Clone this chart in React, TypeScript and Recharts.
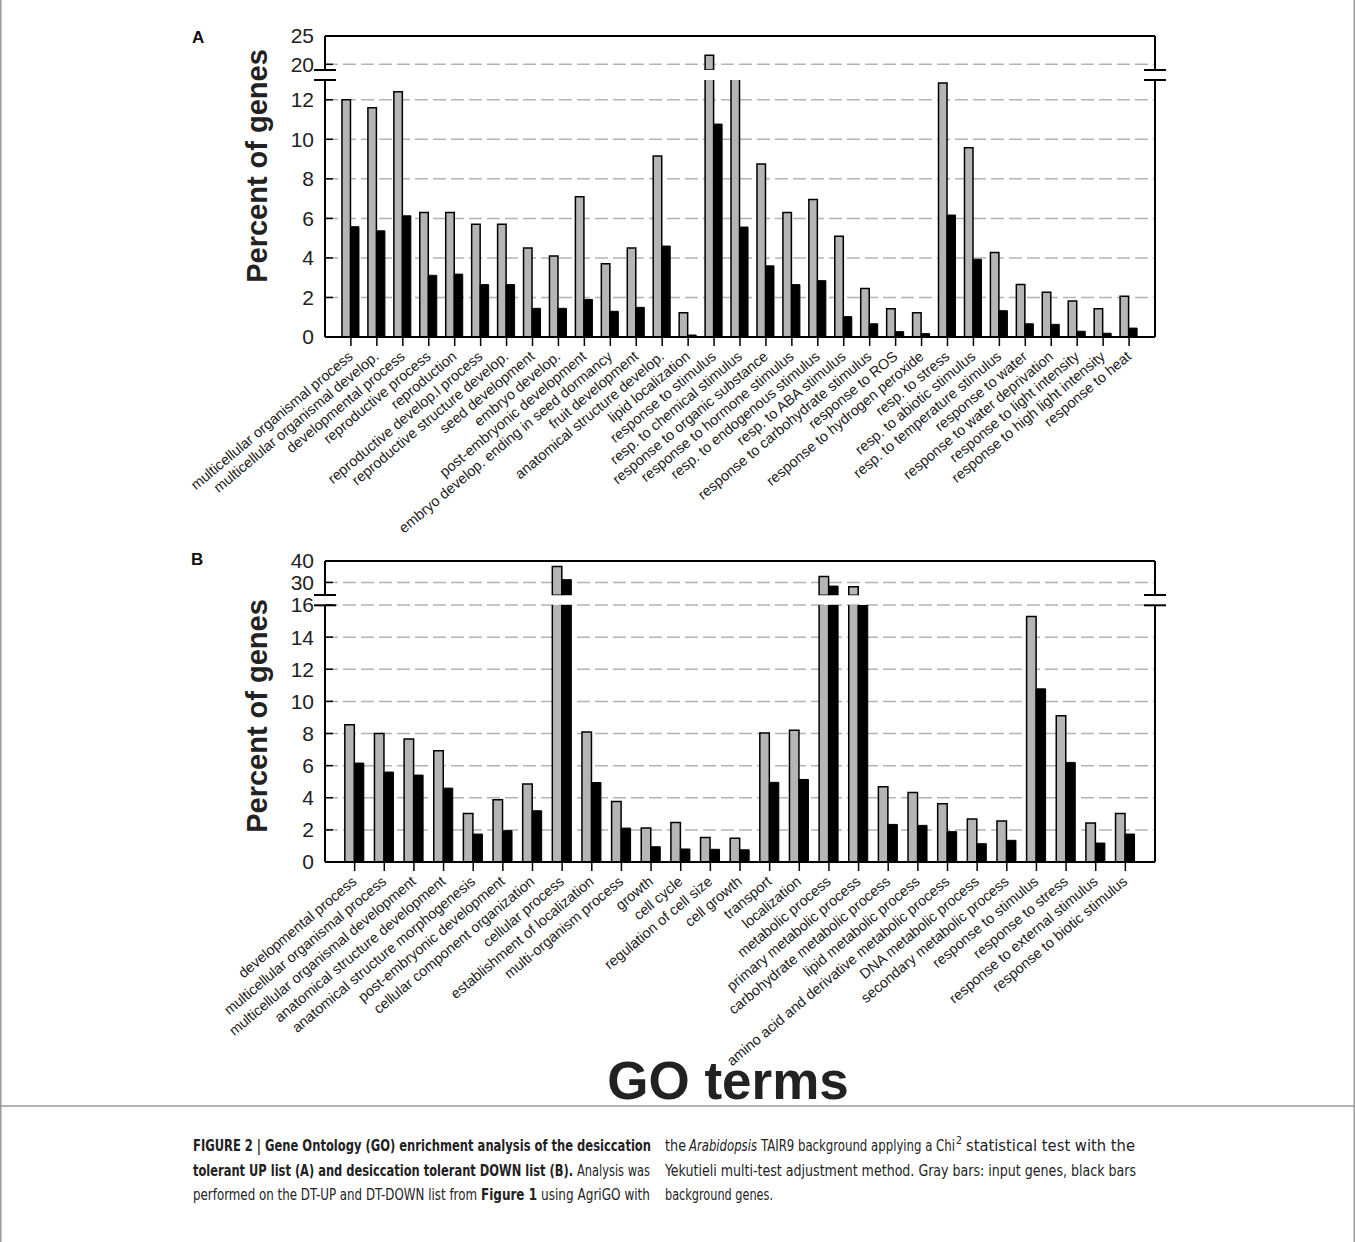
import { BarChart, Bar, XAxis, YAxis, CartesianGrid, ReferenceLine } from 'recharts';

// Panel A: DT-UP list
const termsA = [
    'multicellular organismal process',
    'multicellular organismal develop.',
    'developmental process',
    'reproductive process',
    'reproduction',
    'reproductive develop.l process',
    'reproductive structure develop.',
    'seed development',
    'embryo develop.',
    'post-embryonic development',
    'embryo develop. ending in seed dormancy',
    'fruit development',
    'anatomical structure develop.',
    'lipid localization',
    'response to stimulus',
    'resp. to chemical stimulus',
    'response to organic substance',
    'response to hormone stimulus',
    'resp. to endogenous stimulus',
    'resp. to ABA stimulus',
    'response to carbohydrate stimulus',
    'response to ROS',
    'response to hydrogen peroxide',
    'resp. to stress',
    'resp. to abiotic stimulus',
    'resp. to temperature stimulus',
    'response to water',
    'response to water deprivation',
    'response to light intensity',
    'response to high light intensity',
    'response to heat',
];
const inputA = [
    12.0, 11.6, 12.4, 6.3, 6.3, 5.7, 5.7, 4.5, 4.1, 7.1, 3.7, 4.5, 9.15, 1.23, 21.6, 15.0,
    8.75, 6.3, 6.95, 5.1, 2.45, 1.43, 1.23, 12.85, 9.57, 4.28, 2.66, 2.26, 1.82, 1.43, 2.06,
];
const backgroundA = [
    5.58, 5.37, 6.13, 3.12, 3.18, 2.65, 2.65, 1.45, 1.45, 1.9, 1.3, 1.5, 4.6, 0.1, 10.77, 5.56,
    3.6, 2.65, 2.85, 1.03, 0.67, 0.27, 0.17, 6.17, 3.93, 1.33, 0.67, 0.64, 0.29, 0.19, 0.45,
];
const lowerTicksA = [0, 2, 4, 6, 8, 10, 12];
const upperTicksA = [20, 25];

// Panel B: DT-DOWN list
const termsB = [
    'developmental process',
    'multicellular organismal process',
    'multicellular organismal development',
    'anatomical structure development',
    'anatomical structure morphogenesis',
    'post-embryonic development',
    'cellular component organization',
    'cellular process',
    'establishment of localization',
    'multi-organism process',
    'growth',
    'cell cycle',
    'regulation of cell size',
    'cell growth',
    'transport',
    'localization',
    'metabolic process',
    'primary metabolic process',
    'carbohydrate metabolic process',
    'lipid metabolic process',
    'amino acid and derivative metabolic process',
    'DNA metabolic process',
    'secondary metabolic process',
    'response to stimulus',
    'response to stress',
    'response to external stimulus',
    'response to biotic stimulus',
];
const inputB = [
    8.54, 8.0, 7.65, 6.93, 3.02, 3.88, 4.85, 37.4, 8.09, 3.77, 2.11, 2.46, 1.53, 1.48,
    8.03, 8.21, 32.8, 28.0, 4.69, 4.33, 3.63, 2.67, 2.55, 15.28, 9.1, 2.43, 3.02,
];
const backgroundB = [
    6.16, 5.6, 5.41, 4.6, 1.74, 1.95, 3.19, 31.3, 4.95, 2.11, 0.95, 0.81, 0.79, 0.76,
    4.96, 5.14, 28.3, 20.0, 2.34, 2.28, 1.89, 1.14, 1.35, 10.78, 6.2, 1.18, 1.74,
];
const lowerTicksB = [0, 2, 4, 6, 8, 10, 12, 14, 16];
const upperTicksB = [30, 40];

const PAGE_W = 1355;
const PAGE_H = 1242;
const PLOT_LEFT = 325;
const PLOT_RIGHT = 1155;
const Y_AXIS_W = 60;
const R_AXIS_W = 20;
const GAP = 30;
const FONT = '"Liberation Sans", Arial, Helvetica, sans-serif';
const GRAY = '#b5b5b5';
const GRID = '#b3b3b3';

function CategoryTick({ x, y, payload }: any) {
    const tx = x + 3;
    const ty = y + 10;
    return (
        <text
            x={tx}
            y={ty}
            transform={`rotate(-40 ${tx} ${ty})`}
            textAnchor="end"
            fontSize={14.5}
            fill="#222"
        >
            {payload.value}
        </text>
    );
}

type PanelProps = {
    terms: string[];
    input: number[];
    background: number[];
    lowerMax: number;
    lowerTicks: number[];
    upperMin: number;
    upperMax: number;
    upperTicks: number[];
    frameTop: number;
    breakTop: number;
    breakBottom: number;
    baseline: number;
    labelSpace: number;
    barSize: number;
};

function Panel(p: PanelProps) {
    const rows = p.terms.map((name, i) => ({
        name,
        input: p.input[i],
        background: p.background[i],
    }));
    const upperRows = rows.map((r) => ({
        name: r.name,
        input: r.input > p.upperMin ? r.input : null,
        background: r.background > p.upperMin ? r.background : null,
    }));
    const pad = (PLOT_RIGHT - PLOT_LEFT) / (2 * (rows.length + 1));
    const margin = {
        top: GAP,
        bottom: 0,
        left: PLOT_LEFT - Y_AXIS_W,
        right: PAGE_W - PLOT_RIGHT - R_AXIS_W,
    };
    const axisLine = { stroke: '#000', strokeWidth: 2 };
    const tickLine = { stroke: '#000', strokeWidth: 1.5 };
    const yTick = { fontSize: 21, fill: '#222' };
    // dashed lines only at the labelled values, not at the top of the lower segment
    const upperGrid = p.upperTicks.filter((t) => t < p.upperMax);
    const lowerGrid = p.lowerTicks.filter((t) => t > 0);

    const bars = [
        <Bar
            key="in"
            dataKey="input"
            fill={GRAY}
            stroke="#000"
            strokeWidth={1.5}
            barSize={p.barSize}
            isAnimationActive={false}
        />,
        <Bar
            key="bg"
            dataKey="background"
            fill="#000"
            stroke="#000"
            strokeWidth={1}
            barSize={p.barSize}
            isAnimationActive={false}
        />,
    ];

    return (
        <>
            <div style={{ position: 'absolute', left: 0, top: p.frameTop - GAP }}>
                <BarChart
                    width={PAGE_W}
                    height={p.breakTop - p.frameTop + GAP * 2}
                    data={upperRows}
                    margin={{ ...margin, bottom: GAP }}
                    barGap={0}
                >
                    <CartesianGrid
                        vertical={false}
                        horizontalValues={upperGrid}
                        stroke={GRID}
                        strokeDasharray="13 5"
                        strokeWidth={1.5}
                    />
                    <XAxis dataKey="name" hide padding={{ left: pad, right: pad }} />
                    <YAxis
                        domain={[p.upperMin, p.upperMax]}
                        ticks={p.upperTicks}
                        allowDataOverflow
                        interval={0}
                        width={Y_AXIS_W}
                        tickSize={-8}
                        tickMargin={19}
                        tick={yTick}
                        axisLine={axisLine}
                        tickLine={tickLine}
                    />
                    <YAxis
                        yAxisId="r"
                        orientation="right"
                        domain={[p.upperMin, p.upperMax]}
                        width={R_AXIS_W}
                        tick={false}
                        tickLine={false}
                        axisLine={axisLine}
                    />
                    <ReferenceLine y={p.upperMax} stroke="#000" strokeWidth={2} />
                    {bars}
                </BarChart>
            </div>
            <div style={{ position: 'absolute', left: 0, top: p.breakBottom - GAP }}>
                <BarChart
                    width={PAGE_W}
                    height={p.baseline - p.breakBottom + GAP + p.labelSpace}
                    data={rows}
                    margin={margin}
                    barGap={0}
                >
                    <CartesianGrid
                        vertical={false}
                        horizontalValues={lowerGrid}
                        stroke={GRID}
                        strokeDasharray="13 5"
                        strokeWidth={1.5}
                    />
                    <XAxis
                        dataKey="name"
                        interval={0}
                        height={p.labelSpace}
                        padding={{ left: pad, right: pad }}
                        tickSize={9}
                        tick={<CategoryTick />}
                        axisLine={axisLine}
                        tickLine={tickLine}
                    />
                    <YAxis
                        domain={[0, p.lowerMax]}
                        ticks={p.lowerTicks}
                        allowDataOverflow
                        interval={0}
                        width={Y_AXIS_W}
                        tickSize={-8}
                        tickMargin={19}
                        tick={yTick}
                        axisLine={axisLine}
                        tickLine={tickLine}
                    />
                    <YAxis
                        yAxisId="r"
                        orientation="right"
                        domain={[0, p.lowerMax]}
                        width={R_AXIS_W}
                        tick={false}
                        tickLine={false}
                        axisLine={axisLine}
                    />
                    {bars}
                </BarChart>
            </div>
        </>
    );
}

function BreakMarks({ top, bottom }: { top: number; bottom: number }) {
    return (
        <g stroke="#000" strokeWidth={2}>
            {[PLOT_LEFT, PLOT_RIGHT].map((x) => (
                <g key={x}>
                    <line x1={x - 11} x2={x + 11} y1={top} y2={top} />
                    <line x1={x - 11} x2={x + 11} y1={bottom} y2={bottom} />
                </g>
            ))}
        </g>
    );
}

const captionFont = '"Liberation Sans Narrow", "Arial Narrow", "DejaVu Sans Condensed", "Liberation Sans", sans-serif';

// one caption run: text squeezed to the width it takes in the figure
function Run({ x, y, w, children, bold, italic, size }: any) {
    return (
        <text
            x={x}
            y={y}
            textLength={w}
            lengthAdjust="spacingAndGlyphs"
            fontWeight={bold ? 'bold' : 'normal'}
            fontStyle={italic ? 'italic' : 'normal'}
            fontSize={size || 16}
        >
            {children}
        </text>
    );
}

export default function App() {
    const panelA = { frameTop: 36, breakTop: 70, breakBottom: 80, baseline: 337 };
    const panelB = { frameTop: 560.7, breakTop: 595, breakBottom: 605.3, baseline: 862.3 };

    return (
        <div
            style={{
                position: 'absolute',
                left: 0,
                top: 0,
                width: PAGE_W,
                height: PAGE_H,
                background: '#fff',
                fontFamily: FONT,
                overflow: 'hidden',
            }}
        >
            <Panel
                terms={termsA}
                input={inputA}
                background={backgroundA}
                lowerMax={13}
                lowerTicks={lowerTicksA}
                upperMin={19}
                upperMax={25}
                upperTicks={upperTicksA}
                {...panelA}
                labelSpace={230}
                barSize={8.5}
            />
            <Panel
                terms={termsB}
                input={inputB}
                background={backgroundB}
                lowerMax={16}
                lowerTicks={lowerTicksB}
                upperMin={24}
                upperMax={40}
                upperTicks={upperTicksB}
                {...panelB}
                labelSpace={260}
                barSize={9.5}
            />
            <svg
                width={PAGE_W}
                height={PAGE_H}
                style={{ position: 'absolute', left: 0, top: 0, pointerEvents: 'none' }}
                fontFamily={FONT}
            >
                <BreakMarks top={panelA.breakTop} bottom={panelA.breakBottom} />
                <BreakMarks top={panelB.breakTop} bottom={panelB.breakBottom} />

                <text x={192} y={43} fontSize={17} fontWeight="bold" fill="#111">A</text>
                <text x={191} y={565} fontSize={17} fontWeight="bold" fill="#111">B</text>

                <text transform="translate(267,166) rotate(-90)" textAnchor="middle" fontSize={29} fontWeight="bold" fill="#222">
                    Percent of genes
                </text>
                <text transform="translate(267,716) rotate(-90)" textAnchor="middle" fontSize={29} fontWeight="bold" fill="#222">
                    Percent of genes
                </text>

                <text x={728} y={1099} textAnchor="middle" fontSize={53} fontWeight="bold" fill="#222">
                    GO terms
                </text>

                <g stroke="#9a9a9a" strokeWidth={1.5}>
                    <line x1={0.75} x2={0.75} y1={0} y2={PAGE_H} />
                    <line x1={PAGE_W - 0.75} x2={PAGE_W - 0.75} y1={0} y2={PAGE_H} />
                    <line x1={0} x2={PAGE_W} y1={1106} y2={1106} />
                </g>

                <g fontFamily={captionFont} fill="#222">
                    <Run x={193} y={1151} w={458} bold>
                        FIGURE 2 | Gene Ontology (GO) enrichment analysis of the desiccation
                    </Run>
                    <Run x={193} y={1176} w={380} bold>
                        tolerant UP list (A) and desiccation tolerant DOWN list (B).
                    </Run>
                    <Run x={577} y={1176} w={73}>Analysis was</Run>
                    <Run x={193} y={1200} w={284}>
                        performed on the DT-UP and DT-DOWN list from
                    </Run>
                    <Run x={481} y={1200} w={56} bold>Figure 1</Run>
                    <Run x={541} y={1200} w={109}>using AgriGO with</Run>

                    <Run x={665} y={1151} w={21}>the</Run>
                    <Run x={689} y={1151} w={68} italic>Arabidopsis</Run>
                    <Run x={761} y={1151} w={194}>TAIR9 background applying a Chi</Run>
                    <Run x={956} y={1144} w={6} size={11}>2</Run>
                    <Run x={966} y={1151} w={169}>statistical test with the</Run>
                    <Run x={665} y={1176} w={471}>
                        Yekutieli multi-test adjustment method. Gray bars: input genes, black bars
                    </Run>
                    <Run x={665} y={1200} w={108}>background genes.</Run>
                </g>
            </svg>
        </div>
    );
}
